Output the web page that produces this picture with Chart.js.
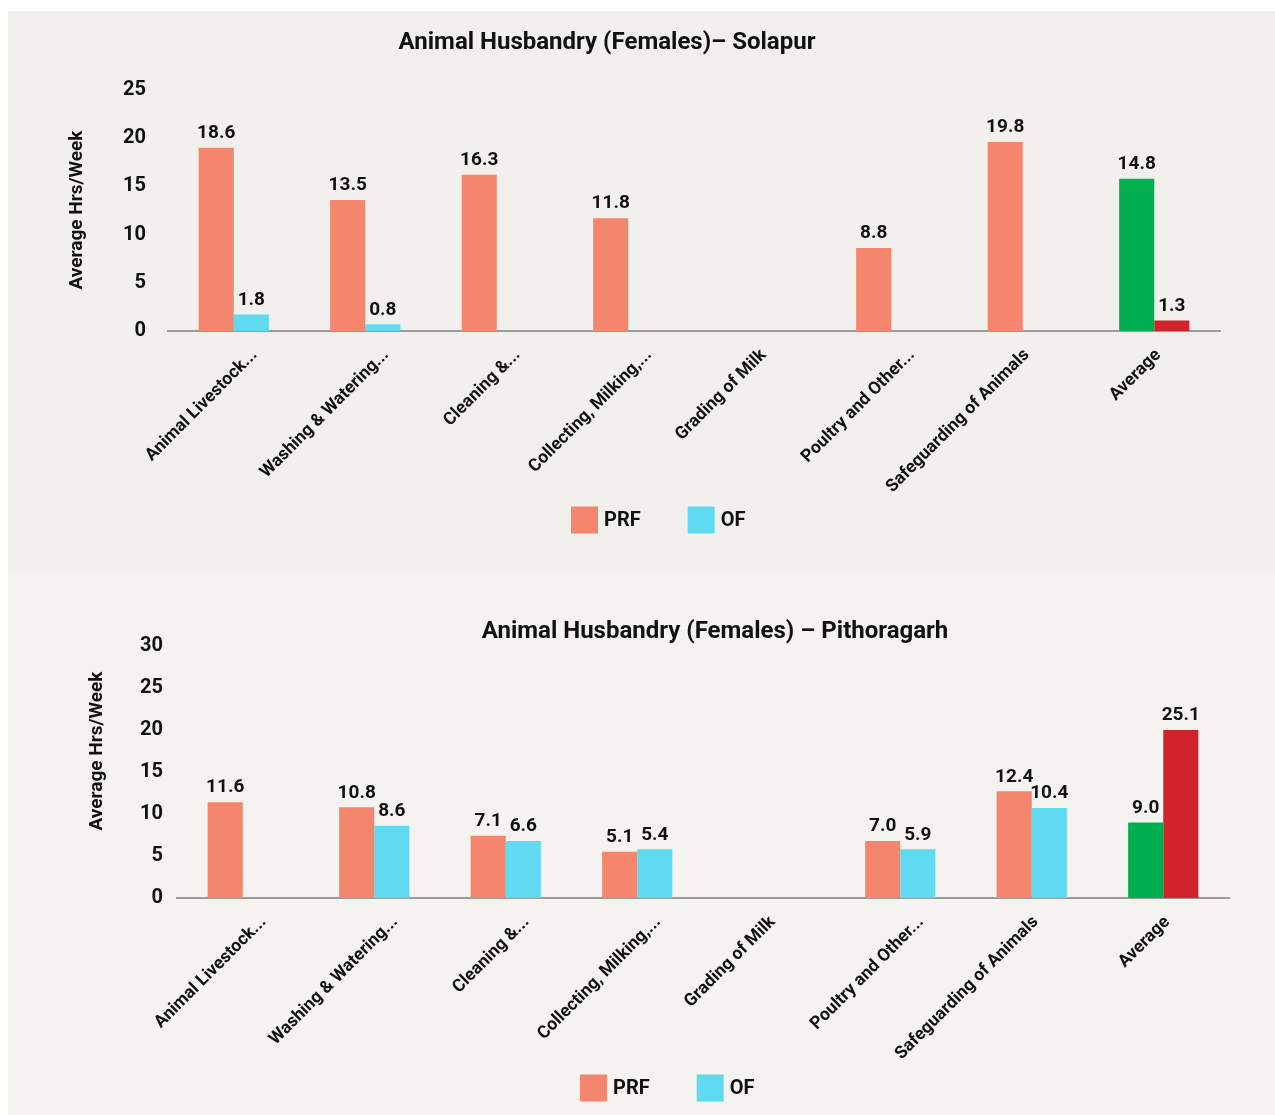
<!DOCTYPE html>
<html>
<head>
<meta charset="utf-8">
<script src="https://cdn.jsdelivr.net/npm/chart.js@4.4.1/dist/chart.umd.min.js"></script>
<style>
  html, body { margin:0; padding:0; background:#ffffff; width:1275px; height:1115px; overflow:hidden; }
  .panel { position:absolute; left:8px; width:1267px; }
  #p1 { top:11px; height:561px; background:#f1f0ed; }
  #p2 { top:572px; height:543px; background:#f4f3f0; }
  canvas { display:block; }
</style>
</head>
<body>
<div class="panel" id="p1"><canvas id="c1" width="1267" height="561"></canvas></div>
<div class="panel" id="p2"><canvas id="c2" width="1267" height="543"></canvas></div>
<script>
// ---------- data ----------
const categories = [
  "Animal Livestock...", "Washing & Watering...", "Cleaning &...", "Collecting, Milking,...",
  "Grading of Milk", "Poultry and Other...", "Safeguarding of Animals", "Average"
];
const seriesNames = ["PRF", "OF"];

// Solapur – bar heights as drawn, and printed value labels
const solapurPRF = [19.0, 13.6, 16.2, 11.7, null, 8.6, 19.6, 15.8];
const solapurOF  = [1.7, 0.7, null, null, null, null, null, 1.1];
const solapurPRFLabels = ["18.6", "13.5", "16.3", "11.8", null, "8.8", "19.8", "14.8"];
const solapurOFLabels  = ["1.8", "0.8", null, null, null, null, null, "1.3"];
const solapurTicks = [0, 5, 10, 15, 20, 25];

// Pithoragarh – bar heights as drawn, and printed value labels
const pithoPRF = [11.4, 10.8, 7.4, 5.5, null, 6.8, 12.7, 9.0];
const pithoOF  = [null, 8.6, 6.8, 5.8, null, 5.8, 10.7, 20.0];
const pithoPRFLabels = ["11.6", "10.8", "7.1", "5.1", null, "7.0", "12.4", "9.0"];
const pithoOFLabels  = [null, "8.6", "6.6", "5.4", null, "5.9", "10.4", "25.1"];
const pithoTicks = [0, 5, 10, 15, 20, 25, 30];

const titles = ["Animal Husbandry (Females)\u2013 Solapur", "Animal Husbandry (Females) \u2013 Pithoragarh"];
const yTitle = "Average Hrs/Week";

// ---------- styles ----------
const COL_PRF = "#f4866e", COL_OF = "#5fdaf0", COL_AVG_PRF = "#00b050", COL_AVG_OF = "#d2232a";
const FONT = "Roboto";
Chart.defaults.font.family = FONT;
Chart.defaults.font.weight = "bold";
Chart.defaults.color = "#111111";

const colorsFor = (base, avg) => categories.map(c => c === "Average" ? avg : base);

// value labels above bars
const valueLabels = {
  id: "valueLabels",
  afterDatasetsDraw(chart, args, opts) {
    const ctx = chart.ctx;
    ctx.save();
    ctx.font = "bold " + opts.size + "px " + FONT;
    ctx.fillStyle = "#111111";
    ctx.textAlign = "center";
    ctx.textBaseline = "bottom";
    chart.data.datasets.forEach((ds, di) => {
      const meta = chart.getDatasetMeta(di);
      meta.data.forEach((bar, i) => {
        const t = ds.valueText[i];
        if (t == null || ds.data[i] == null) return;
        ctx.fillText(t, bar.x, bar.y - opts.gap);
      });
    });
    ctx.restore();
  }
};

// truncated ("...") category labels hang past their tick, as in the reference
const ellipsisShift = {
  id: "ellipsisShift",
  beforeDraw(chart, args, o) {
    const sc = chart.scales.x;
    if (!sc || typeof sc.getLabelItems !== "function") return;
    const items = sc.getLabelItems(chart.chartArea);
    if (!items || items._shifted) return;
    items.forEach(it => {
      const t = Array.isArray(it.label) ? it.label[0] : it.label;
      if (typeof t === "string" && t.endsWith("...") && it.options && it.options.translation) {
        it.options.translation[0] += o.shift;
      }
    });
    items._shifted = true;
  }
};

// chart title, axis title and legend drawn at the reference positions
const overlay = {
  id: "overlay",
  afterDraw(chart, args, o) {
    const ctx = chart.ctx;
    ctx.save();
    ctx.fillStyle = "#111111";
    ctx.font = "bold " + o.titleSize + "px " + FONT;
    ctx.textAlign = "center";
    ctx.textBaseline = "middle";
    ctx.fillText(o.title, o.titleX, o.titleY);
    ctx.save();
    ctx.translate(o.yTitleX, o.yTitleY);
    ctx.rotate(-Math.PI / 2);
    ctx.font = "bold " + o.yTitleSize + "px " + FONT;
    ctx.fillText(o.yTitle, 0, 0);
    ctx.restore();
    ctx.font = "bold " + o.legendSize + "px " + FONT;
    ctx.textAlign = "left";
    let x = o.legendX;
    chart.data.datasets.forEach((ds) => {
      ctx.fillStyle = ds.legendColor;
      ctx.fillRect(x, o.legendY - o.box / 2, o.box, o.box);
      ctx.fillStyle = "#111111";
      ctx.fillText(ds.label, x + o.box + 6, o.legendY + 1);
      x += o.box + 6 + ctx.measureText(ds.label).width + o.legendGap;
    });
    ctx.restore();
  }
};

function makeChart(id, prf, of, prfLbl, ofLbl, ticks, L) {
  return new Chart(document.getElementById(id), {
    type: "bar",
    data: {
      labels: categories,
      datasets: [
        { label: seriesNames[0], data: prf, valueText: prfLbl, legendColor: COL_PRF,
          backgroundColor: colorsFor(COL_PRF, COL_AVG_PRF) },
        { label: seriesNames[1], data: of, valueText: ofLbl, legendColor: COL_OF,
          backgroundColor: colorsFor(COL_OF, COL_AVG_OF) }
      ]
    },
    options: {
      responsive: false,
      animation: false,
      events: [],
      layout: { padding: { left: 0, right: L.padRight, top: L.areaTop, bottom: 0 } },
      datasets: { bar: { categoryPercentage: 0.534, barPercentage: 1.0, borderWidth: 0 } },
      scales: {
        x: {
          grid: { display: false, drawTicks: false },
          border: { display: true, color: "#9b9b9b", width: 2 },
          ticks: { autoSkip: false, minRotation: 45, maxRotation: 45, labelOffset: L.labelOffset,
                   padding: L.labelPad, font: { size: 17.5, weight: "bold" }, color: "#111111" },
          afterFit(s) { s.height = L.xHeight; }
        },
        y: {
          min: 0, max: ticks[ticks.length - 1],
          afterBuildTicks(s) { s.ticks = ticks.map(v => ({ value: v })); },
          grid: { display: false, drawTicks: false },
          border: { display: false },
          ticks: { padding: L.yPad, font: { size: 20, weight: "bold" }, color: "#111111" },
          afterFit(s) { s.width = L.yWidth; }
        }
      },
      plugins: {
        legend: { display: false },
        title: { display: false },
        tooltip: { enabled: false },
        valueLabels: { size: 19, gap: 5 },
        ellipsisShift: { shift: 17 },
        overlay: L.overlay
      }
    },
    plugins: [ellipsisShift, valueLabels, overlay]
  });
}

makeChart("c1", solapurPRF, solapurOF, solapurPRFLabels, solapurOFLabels, solapurTicks, {
  padRight: 55, areaTop: 79, xHeight: 241, yWidth: 160, yPad: 22, labelOffset: 4, labelPad: 14,
  overlay: { title: titles[0], titleX: 599, titleY: 32, titleSize: 24,
             yTitle: yTitle, yTitleX: 69, yTitleY: 199, yTitleSize: 19,
             legendX: 563, legendY: 509, box: 27, legendSize: 20, legendGap: 47 }
});
makeChart("c2", pithoPRF, pithoOF, pithoPRFLabels, pithoOFLabels, pithoTicks, {
  padRight: 46, areaTop: 74, xHeight: 217, yWidth: 169, yPad: 14, labelOffset: 4, labelPad: 14,
  overlay: { title: titles[1], titleX: 707, titleY: 60, titleSize: 24,
             yTitle: yTitle, yTitleX: 89, yTitleY: 179, yTitleSize: 19,
             legendX: 572, legendY: 516, box: 27, legendSize: 20, legendGap: 47 }
});
</script>
</body>
</html>
